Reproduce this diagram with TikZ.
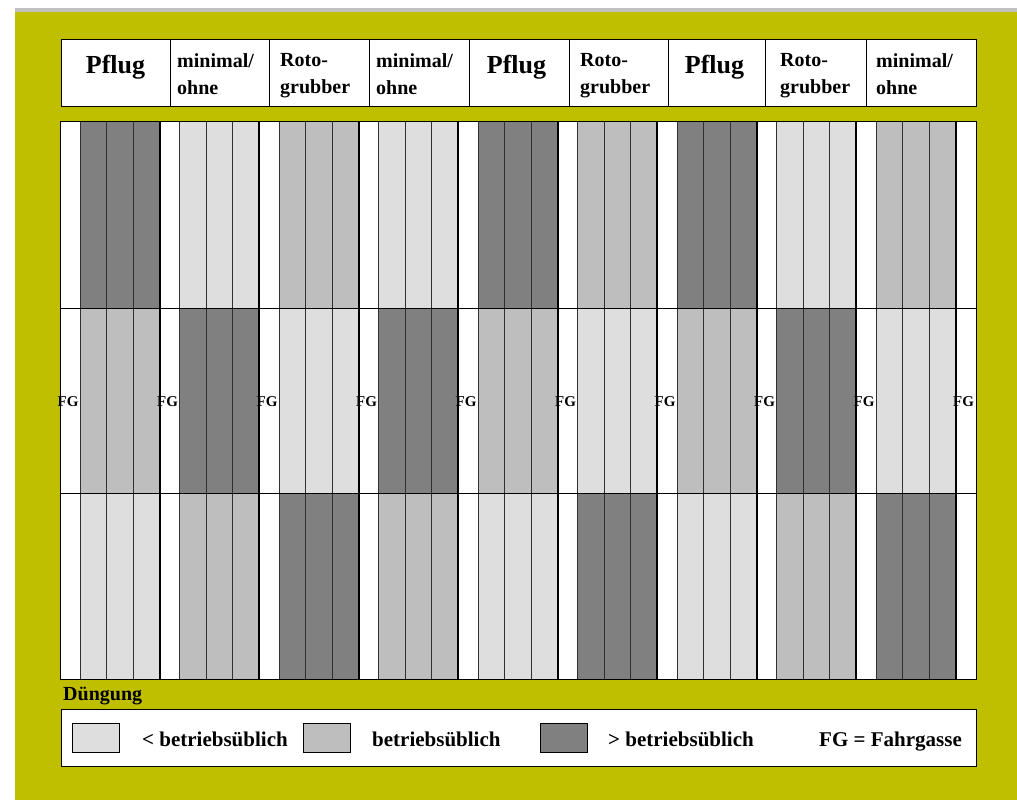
\documentclass[tikz,border=0pt]{standalone}
\usepackage{fontspec}
\setmainfont{Liberation Serif}
\definecolor{oliv}{RGB}{191,191,0}
\definecolor{randgrau}{RGB}{192,192,192}
\definecolor{hell}{RGB}{222,222,222}
\definecolor{mittel}{RGB}{190,190,190}
\definecolor{dunkel}{RGB}{128,128,128}
\definecolor{strich}{RGB}{48,48,48}
\tikzset{
	kopf/.style={font=\bfseries\fontsize{20}{27}\selectfont, align=left, anchor=north west, inner sep=0pt},
	pflug/.style={font=\bfseries\fontsize{26}{30}\selectfont, anchor=base, inner sep=0pt},
	fgtext/.style={font=\bfseries\fontsize{15}{18}\selectfont, inner sep=0pt},
	legtext/.style={font=\bfseries\fontsize{21}{24}\selectfont, anchor=base west, inner sep=0pt},
	feld/.style={draw=black, line width=1pt},
	muster/.style={draw=black, line width=1pt, minimum width=47pt, minimum height=29pt, inner sep=0pt, anchor=north west},
}

\begin{document}
\begin{tikzpicture}[x=1pt, y=-1pt]
		\useasboundingbox (0,0) rectangle (1017,800);
		\fill[randgrau] (15,8) rectangle (1017,12);
		\fill[oliv] (15,12) rectangle (1017,800);
		%% Kopfzeile
		\draw[feld, fill=white] (61,40) rectangle (976,106);
		\foreach \x in {170,269,369,469,569,668,765,866}
			\draw[feld] (\x,40) -- (\x,106);
		\node[pflug] (pflug1) at (115.5,74) {Pflug};
		\node[kopf] (mini1) at (177,53) {minimal/\\ohne};
		\node[kopf] (roto1) at (280,53) {Roto-\\grubber};
		\node[kopf] (mini2) at (376,53) {minimal/\\ohne};
		\node[pflug] (pflug2) at (516.5,74) {Pflug};
		\node[kopf] (roto2) at (580,53) {Roto-\\grubber};
		\node[pflug] (pflug3) at (714.5,74) {Pflug};
		\node[kopf] (roto3) at (780,53) {Roto-\\grubber};
		\node[kopf] (mini3) at (876,53) {minimal/\\ohne};
		%% Parzellen
		\fill[white] (60,121) rectangle (976,679);
		\foreach \k/\oben/\mitte/\unten in {0/dunkel/mittel/hell, 1/hell/dunkel/mittel, 2/mittel/hell/dunkel,
				3/hell/dunkel/mittel, 4/dunkel/mittel/hell, 5/mittel/hell/dunkel,
				6/dunkel/mittel/hell, 7/hell/dunkel/mittel, 8/mittel/hell/dunkel}
		{
			\pgfmathsetmacro\xa{80+99.5*\k}
			\fill[\oben] (\xa,121) rectangle ++(79.5,187);
			\fill[\mitte] (\xa,308) rectangle ++(79.5,185);
			\fill[\unten] (\xa,493) rectangle ++(79.5,186);
			\draw[strich, line width=1pt] (\xa,121) -- (\xa,679)
				(\xa+26.5,121) -- (\xa+26.5,679) (\xa+53,121) -- (\xa+53,679);
		}
		\draw[feld] (60,308) -- (976,308) (60,493) -- (976,493);
		\foreach \k in {0,...,8}
			\draw[black, line width=2pt] ({159.5+99.5*\k},121) -- ({159.5+99.5*\k},679);
		\draw[feld] (60,121) rectangle (976,679);
		\foreach \k in {0,...,9}
			\node[fgtext] (fg\k) at ({60+99.5*\k+8},402) {FG};
		%% Legende
		\node[legtext, font=\bfseries\fontsize{20}{24}\selectfont] (duengung) at (63,700) {Düngung};
		\draw[feld, fill=white] (61,709) rectangle (976,766);
		\node[muster, fill=hell] (mhell) at (72,723) {};
		\node[legtext] (thell) at (142,746) {< betriebsüblich};
		\node[muster, fill=mittel] (mmittel) at (303,723) {};
		\node[legtext] (tmittel) at (372,746) {betriebsüblich};
		\node[muster, fill=dunkel] (mdunkel) at (540,723) {};
		\node[legtext] (tdunkel) at (608,746) {> betriebsüblich};
		\node[legtext] (tfg) at (819,746) {FG = Fahrgasse};
	\end{tikzpicture}
\end{document}
